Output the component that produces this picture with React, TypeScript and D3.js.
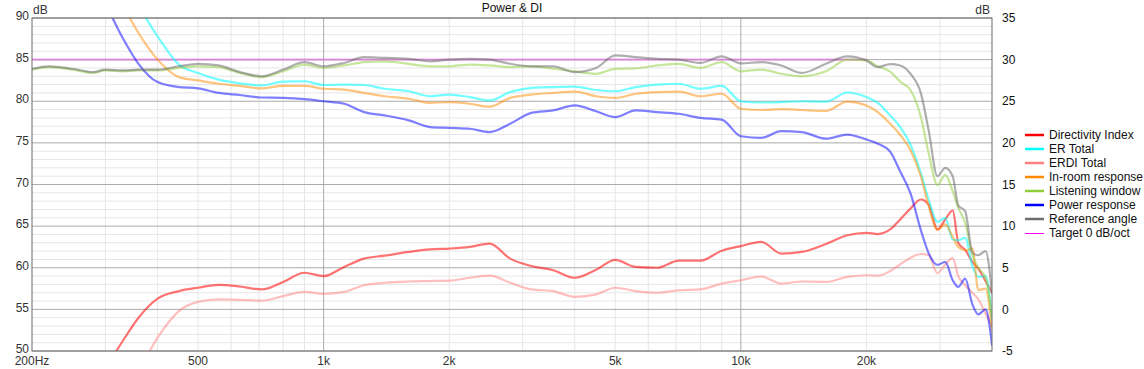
import React from 'react';
import * as d3 from 'd3';

// frequency grid (Hz) shared by all series
const FREQS = [200, 220, 250, 280, 300, 330, 360, 400, 450, 500,
  560, 630, 710, 800, 900, 1000, 1120, 1250, 1400, 1600,
  1800, 2000, 2240, 2500, 2800, 3150, 3550, 4000, 4500, 5000,
  5600, 6300, 7100, 8000, 9000, 10000, 11200, 12500, 14000, 16000,
  18000, 20000, 21300, 22800, 24100, 25500, 27000, 28200, 29600, 30900,
  32200, 33200, 34500, 35900, 37100, 38600, 40000];

// left axis (dB SPL)
const REFERENCE_ANGLE = [83.9, 84.2, 83.9, 83.5, 83.8, 83.7, 83.8, 83.8, 84.2, 84.5,
  84.3, 83.5, 83.0, 83.8, 84.7, 84.2, 84.6, 85.3, 85.2, 85.1,
  84.8, 85.0, 85.1, 85.0, 84.5, 84.2, 84.2, 83.5, 84.0, 85.5,
  85.3, 85.1, 85.0, 84.6, 85.4, 84.55, 84.7, 84.3, 83.4, 84.5,
  85.4, 84.9, 84.1, 84.45, 84.3, 83.3, 81.0, 76.5, 71.0, 72.0,
  71.0, 67.5, 66.8, 61.8, 61.5, 62.0, 57.0];

const LISTENING_WINDOW = [83.8, 84.1, 83.8, 83.4, 83.7, 83.6, 83.7, 83.7, 84.0, 84.2,
  84.1, 83.4, 82.9, 83.6, 84.4, 84.0, 84.3, 84.7, 84.8, 84.5,
  84.2, 84.2, 84.4, 84.3, 84.1, 84.2, 83.9, 83.6, 83.3, 83.9,
  83.95, 84.3, 84.5, 84.0, 84.7, 83.6, 83.8, 83.3, 83.0, 83.6,
  85.0, 84.9, 84.2, 83.55, 82.35, 81.35, 78.15, 73.75, 69.95, 71.15,
  69.2, 67.2, 65.4, 61.5, 60.0, 58.8, 54.1];

const ER_TOTAL = [116, 112, 107, 102, 99, 95, 91.5, 87.8, 84.4, 83.4,
  82.6, 82.15, 81.9, 82.35, 82.4, 81.95, 82.0, 81.95, 81.5, 81.2,
  80.6, 80.8, 80.5, 80.1, 81.1, 81.6, 81.7, 81.75, 81.35, 81.2,
  81.7, 82.0, 82.1, 81.5, 81.85, 80.0, 79.85, 79.9, 80.0, 79.95,
  81.05, 80.5, 79.8, 78.3, 76.9, 74.8, 71.4, 68.2, 65.5, 66.0,
  63.4, 63.3, 63.6, 60.2, 58.9, 59.0, 53.7];

const IN_ROOM = [111, 107, 102, 97.5, 95, 91.5, 88.2, 85.0, 82.9, 82.5,
  82.1, 81.85, 81.55, 81.85, 81.85, 81.5, 81.4, 81.0, 80.6, 80.3,
  79.8, 79.9, 79.7, 79.35, 80.4, 80.8, 81.0, 81.15, 80.6, 80.4,
  80.9, 81.1, 81.15, 80.6, 80.9, 79.1, 78.95, 79.05, 78.95, 78.85,
  79.95, 79.5, 78.7, 77.3, 75.95, 74.15, 71.0, 67.4, 64.55, 65.2,
  63.7, 62.5, 62.1, 62.3, 57.3, 57.5, 52.5];

const POWER = [109, 105, 99.5, 94.5, 91.7, 87.6, 84.5, 82.3, 81.7, 81.55,
  81.0, 80.75, 80.45, 80.4, 80.25, 80.0, 79.7, 78.7, 78.3, 77.7,
  76.9, 76.8, 76.7, 76.3, 77.3, 78.6, 78.9, 79.5, 78.8, 78.1,
  78.9, 78.7, 78.5, 78.0, 77.8, 75.8, 75.6, 76.4, 76.3, 75.5,
  76.0, 75.4, 74.9, 73.95, 71.55, 68.95, 64.55, 61.75, 60.35, 60.7,
  58.5, 57.7, 58.7, 55.6, 54.4, 55.0, 50.7];

// right axis (DI, dB)
const DIRECTIVITY_INDEX = [-20, -17, -13, -9, -7, -3.8, -1.0, 1.3, 2.2, 2.6,
  2.95, 2.75, 2.4, 3.3, 4.4, 4.0, 5.1, 6.1, 6.45, 6.9,
  7.2, 7.3, 7.5, 7.9, 6.1, 5.2, 4.7, 3.8, 4.75, 5.95,
  5.1, 5.0, 5.85, 5.85, 7.05, 7.6, 8.1, 6.7, 6.9, 7.85,
  8.9, 9.2, 9.05, 9.6, 10.8, 12.1, 13.2, 12.6, 9.6, 10.8,
  11.9, 8.0, 7.15, 5.7, 4.9, 3.4, 2.0];

const ERDI_TOTAL = [-30, -27, -22, -18, -15, -11, -7.5, -3.4, -0.2, 0.9,
  1.2, 1.15, 1.05, 1.6, 2.1, 1.85, 2.1, 2.9, 3.2, 3.35,
  3.4, 3.45, 3.8, 4.05, 3.2, 2.4, 2.2, 1.5, 1.8, 2.6,
  2.2, 2.0, 2.3, 2.4, 3.1, 3.5, 3.95, 3.1, 3.35, 3.3,
  3.9, 4.1, 4.05, 4.6, 5.4, 6.2, 6.65, 6.5, 4.35, 5.4,
  6.15, 4.0, 2.9, 2.0, 1.2, -0.5, -2.0];

const TARGET_FREQS = [200, 20000];
const TARGET = [85, 85];

const X_TICKS = [200, 500, 1000, 2000, 5000, 10000, 20000];
const X_TICK_LABELS = ['200Hz', '500', '1k', '2k', '5k', '10k', '20k'];
const LEFT_TICKS = [50, 55, 60, 65, 70, 75, 80, 85, 90];
const RIGHT_TICKS = [-5, 0, 5, 10, 15, 20, 25, 30, 35];

const LEGEND = [
  { name: 'Directivity Index', color: '#ff0000', width: 2 },
  { name: 'ER Total', color: '#00ffff', width: 2 },
  { name: 'ERDI Total', color: '#ff8080', width: 2 },
  { name: 'In-room response', color: '#ff8c00', width: 2 },
  { name: 'Listening window', color: '#8fcd3a', width: 2 },
  { name: 'Power response', color: '#0000ff', width: 2 },
  { name: 'Reference angle', color: '#6e6e6e', width: 2 },
  { name: 'Target 0 dB/oct', color: '#ff00ff', width: 1 },
];

export default function App() {
  const width = 1144;
  const height = 369;
  const plot = { left: 32, right: 992, top: 18, bottom: 351 };
  const font = '"Liberation Sans", Arial, sans-serif';

  const x = d3.scaleLog().domain([200, 40000]).range([plot.left, plot.right]);
  const yL = d3.scaleLinear().domain([50, 90]).range([plot.bottom, plot.top]);
  const yR = d3.scaleLinear().domain([-5, 35]).range([plot.bottom, plot.top]);

  const line = (freqs: number[], vals: number[], y: d3.ScaleLinear<number, number>) =>
    d3.line<number>()
      .x((_, i) => x(freqs[i]))
      .y(d => y(d))
      .curve(d3.curveMonotoneX)(vals) || '';

  // minor frequency grid
  const minorF: number[] = [];
  for (const dec of [100, 1000, 10000]) {
    for (let m = 1; m <= 9; m++) {
      const f = m * dec;
      if (f > 200 && f < 40000 && f !== 1000 && f !== 10000) minorF.push(f);
    }
  }
  const minorDb = d3.range(51, 90).filter(v => v % 5 !== 0);

  const series = [
    { vals: DIRECTIVITY_INDEX, y: yR, color: '#ff0000', op: 0.55 },
    { vals: ER_TOTAL, y: yL, color: '#00ffff', op: 0.55 },
    { vals: ERDI_TOTAL, y: yR, color: '#ff8080', op: 0.5 },
    { vals: IN_ROOM, y: yL, color: '#ff8c00', op: 0.5 },
    { vals: LISTENING_WINDOW, y: yL, color: '#8fcd3a', op: 0.5 },
    { vals: POWER, y: yL, color: '#0000ff', op: 0.5 },
    { vals: REFERENCE_ANGLE, y: yL, color: '#6e6e6e', op: 0.55 },
  ];

  return (
    <svg width={width} height={height}
      style={{ position: 'absolute', left: 0, top: 0, background: '#fff' }}
      fontFamily={font} fontSize={12}>
      <defs>
        <clipPath id="plotClip">
          <rect x={plot.left} y={plot.top} width={plot.right - plot.left} height={plot.bottom - plot.top} />
        </clipPath>
      </defs>

      {/* grid */}
      {minorDb.map(v => (
        <line key={'h' + v} x1={plot.left} x2={plot.right} y1={yL(v)} y2={yL(v)} stroke="#e6e6e6" />
      ))}
      {minorF.map(f => (
        <line key={'v' + f} x1={x(f)} x2={x(f)} y1={plot.top} y2={plot.bottom} stroke="#e6e6e6" />
      ))}
      {LEFT_TICKS.map(v => (
        <line key={'H' + v} x1={plot.left} x2={plot.right} y1={yL(v)} y2={yL(v)} stroke="#ababab" />
      ))}
      {[1000, 10000].map(f => (
        <line key={'V' + f} x1={x(f)} x2={x(f)} y1={plot.top} y2={plot.bottom} stroke="#ababab" />
      ))}

      {/* curves */}
      <g clipPath="url(#plotClip)" fill="none" strokeLinejoin="round" strokeLinecap="round">
        <path d={line(TARGET_FREQS, TARGET, yL)} stroke="#e070e0" strokeOpacity={0.6} strokeWidth={2.2} />
        {series.map((s, i) => (
          <path key={i} d={line(FREQS, s.vals, s.y)} stroke={s.color} strokeOpacity={s.op} strokeWidth={2.2} />
        ))}
      </g>

      {/* frame */}
      <rect x={plot.left} y={plot.top} width={plot.right - plot.left} height={plot.bottom - plot.top}
        fill="none" stroke="#6a6a6a" />

      {/* axes text */}
      {LEFT_TICKS.map(v => (
        <text key={'lt' + v} x={29} y={yL(v) - 2} dy="0.35em" textAnchor="end" fill="#333">{v}</text>
      ))}
      {RIGHT_TICKS.map(v => (
        <text key={'rt' + v} x={1002} y={yR(v)} dy="0.35em" textAnchor="start" fill="#111">{v}</text>
      ))}
      {X_TICKS.map((f, i) => (
        <text key={'xt' + f} x={x(f)} y={365} textAnchor="middle" fill="#333">{X_TICK_LABELS[i]}</text>
      ))}
      <text x={33} y={14} fill="#333">dB</text>
      <text x={990} y={14} textAnchor="end" fill="#333">dB</text>
      <text x={(plot.left + plot.right) / 2} y={12} textAnchor="middle" fill="#111">Power &amp; DI</text>

      {/* legend */}
      {LEGEND.map((l, i) => (
        <g key={l.name} transform={`translate(0, ${135 + i * 14})`}>
          <line x1={1025} x2={1044} y1={l.width === 1 ? 0.5 : 0} y2={l.width === 1 ? 0.5 : 0}
            stroke={l.color} strokeWidth={l.width === 1 ? 1 : 2.5} />
          <text x={1049} y={0} dy="0.35em" fill="#111">{l.name}</text>
        </g>
      ))}
    </svg>
  );
}
